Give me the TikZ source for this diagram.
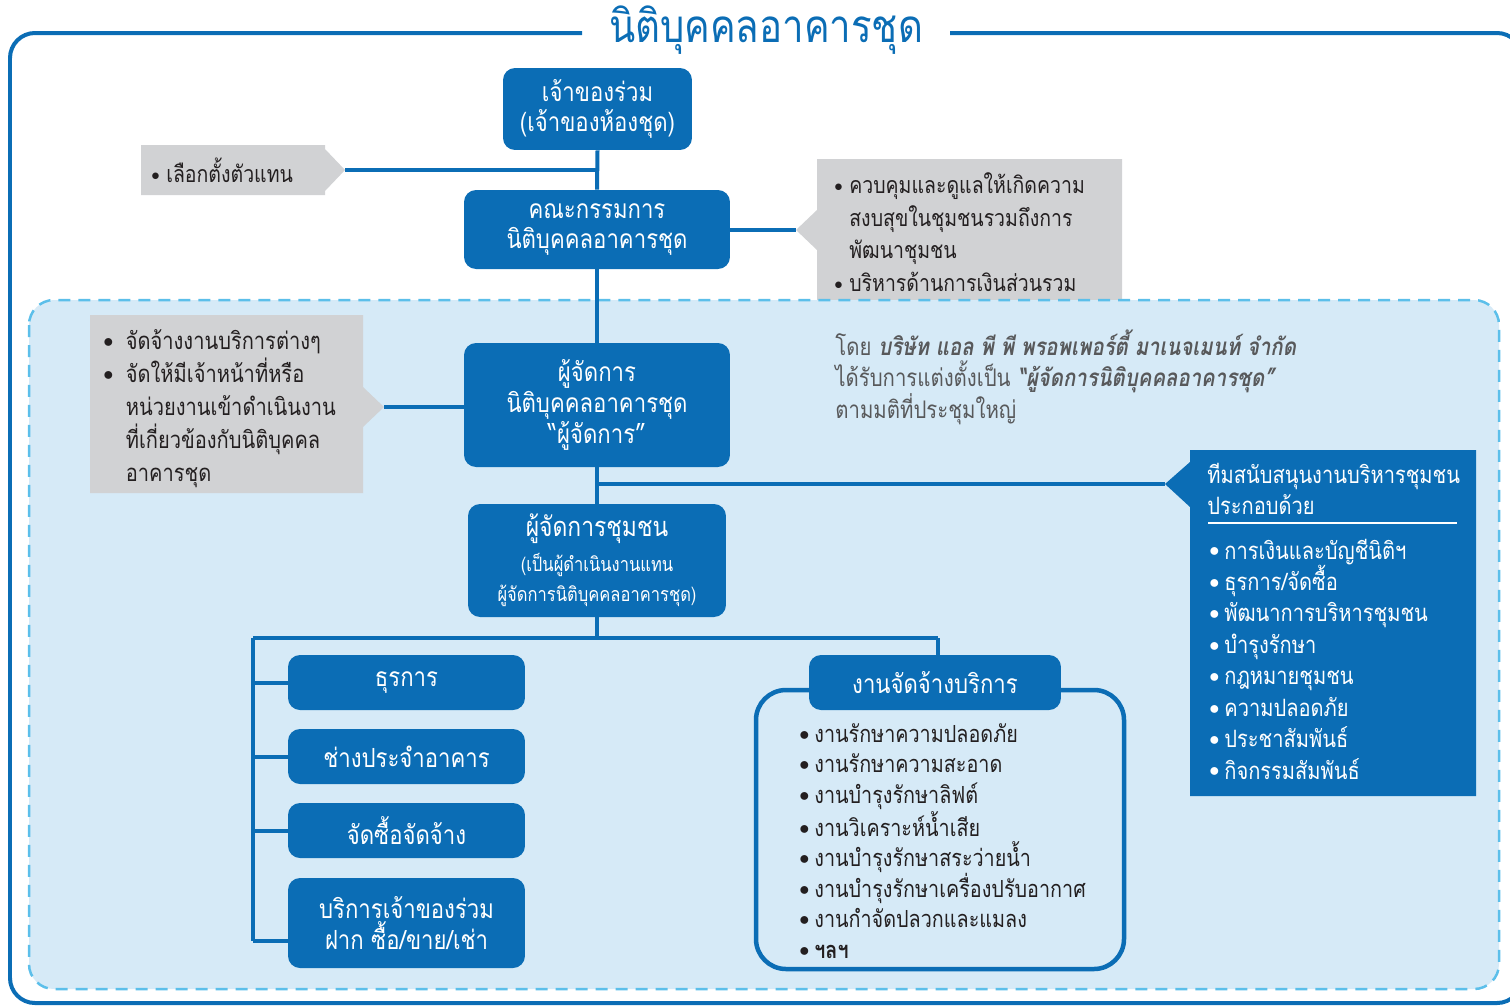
\documentclass[tikz,border=0pt]{standalone}
\usepackage{fontspec}
\newfontfamily\thaifont[Script=Thai,FakeStretch=0.84]{Loma}
\usetikzlibrary{positioning}

\definecolor{nitiblue}{HTML}{0B6DB5}
\definecolor{skyfill}{HTML}{D6EAF7}
\definecolor{skydash}{HTML}{5CBFEA}
\definecolor{calloutgray}{HTML}{D1D2D4}
\definecolor{inkgray}{HTML}{231F20}
\definecolor{notegray}{HTML}{58595B}

\newcommand{\bul}[1][0.3cm]{\makebox[#1][l]{\raisebox{0.09em}{\scalebox{0.8}{$\bullet$}}}}
\newcommand{\sz}[2]{\fontsize{#1}{#2}\selectfont}

\tikzset{
  orgbox/.style={fill=nitiblue, text=white, rounded corners=0.24cm, align=center,
    inner sep=0pt, font=\thaifont\sz{15}{17.5}},
  unitbox/.style={orgbox, minimum width=4.74cm, minimum height=1.1cm},
  link/.style={nitiblue, line width=0.08cm},
  frame/.style={nitiblue, line width=0.08cm, rounded corners=0.5cm},
  zone/.style={skydash, fill=skyfill, line width=0.05cm,
    dash pattern=on 0.24cm off 0.16cm, rounded corners=0.5cm},
  callout/.style={fill=calloutgray},
  calltext/.style={anchor=west, align=left, inner sep=0pt, text=inkgray,
    font=\thaifont\sz{13.2}{18.7}},
  listtext/.style={anchor=west, align=left, inner sep=0pt, font=\thaifont\sz{13.4}{17.4}}
}

\begin{document}
\begin{tikzpicture}[x=0.02cm, y=-0.02cm]
  \useasboundingbox (0,0) rectangle (1510,1005);

  % outer frame and title
  \draw[frame] (582,33) -- (10,33) -- (10,1003) -- (1522,1003) -- (1522,33) -- (950,33);
  \node[text=nitiblue, font=\thaifont\sz{26}{30}] (title) at (766,30) {นิติบุคคลอาคารชุด};

  % gray notes above the zone
  \fill[callout] (141,145) -- (325,145) -- (325,149) -- (345,170) -- (325,191)
    -- (325,195) -- (141,195) -- cycle;
  \coordinate (electtip) at (345,170);
  \node[calltext] (electnote) at (151,170) {\bul เลือกตั้งตัวแทน};

  \fill[callout] (817,159) -- (1122,159) -- (1122,300) -- (817,300) -- (817,250)
    -- (796,230) -- (817,210) -- cycle;
  \coordinate (boardtip) at (796,230);
  \node[calltext, font=\thaifont\sz{13.2}{18.6}] (boardnote) at (834,232)
    {\bul ควบคุมและดูแลให้เกิดความ\\\hspace*{0.3cm}สงบสุขในชุมชนรวมถึงการ\\
     \hspace*{0.3cm}พัฒนาชุมชน\\\bul บริหารด้านการเงินส่วนรวม};

  % management zone
  \draw[zone] (29,300) rectangle (1499,989);

  % main chain
  \node[orgbox, minimum width=3.78cm, minimum height=1.64cm] (owner) at (597.5,109)
    {เจ้าของร่วม\\(เจ้าของห้องชุด)};
  \node[orgbox, minimum width=5.32cm, minimum height=1.58cm] (board) at (597,229.5)
    {คณะกรรมการ\\นิติบุคคลอาคารชุด};
  \node[orgbox, minimum width=5.32cm, minimum height=2.48cm] (manager) at (597,405)
    {ผู้จัดการ\\นิติบุคคลอาคารชุด\\“ผู้จัดการ”};
  \node[orgbox, minimum width=5.16cm, minimum height=2.26cm] (community) at (597,560.5)
    {\sz{15.5}{20}ผู้จัดการชุมชน\\[2pt]\sz{11.2}{16}(เป็นผู้ดำเนินงานแทน\\\sz{11.2}{16}ผู้จัดการนิติบุคคลอาคารชุด)};

  \draw[link] (owner.south) -- (board.north);
  \draw[link] (board.south) -- (manager.north);
  \draw[link] (manager.south) -- (community.north);
  \draw[link] (electtip) -- (electtip -| owner.south);
  \draw[link] (board.east |- boardtip) -- (boardtip);

  % manager duties
  \fill[callout] (90,315) -- (363,315) -- (363,387) -- (384,407) -- (363,427)
    -- (363,493) -- (90,493) -- cycle;
  \coordinate (dutytip) at (384,407);
  \node[calltext, font=\thaifont\sz{13.6}{18.8}] (dutynote) at (103,409)
    {\bul[0.45cm]จัดจ้างงานบริการต่างๆ\\\bul[0.45cm]จัดให้มีเจ้าหน้าที่หรือ\\
     \hspace*{0.45cm}หน่วยงานเข้าดำเนินงาน\\\hspace*{0.45cm}ที่เกี่ยวข้องกับนิติบุคคล\\
     \hspace*{0.45cm}อาคารชุด};
  \draw[link] (dutytip) -- (manager.west |- dutytip);

  \node[listtext, text=notegray, font=\thaifont\sz{13.8}{17.9}] (appoint) at (835,377)
    {โดย \textbf{\itshape บริษัท แอล พี พี พรอพเพอร์ตี้ มาเนจเมนท์ จำกัด}\\
     ได้รับการแต่งตั้งเป็น \textbf{\itshape “ผู้จัดการนิติบุคคลอาคารชุด”}\\
     ตามมติที่ประชุมใหญ่};

  % support team
  \fill[nitiblue] (1190,450) -- (1476,450) -- (1476,796) -- (1190,796) -- (1190,507)
    -- (1165,484) -- (1190,462) -- cycle;
  \coordinate (teamtip) at (1165,484);
  \node[listtext, text=white, font=\thaifont\sz{13.6}{17.6}] (teamhead) at (1207,489)
    {ทีมสนับสนุนงานบริหารชุมชน\\ประกอบด้วย};
  \draw[white, line width=0.05cm] (1208,523) -- (1457,523);
  \node[listtext, text=white, font=\thaifont\sz{13.6}{17.9}] (teamlist) at (1209,659)
    {\bul การเงินและบัญชีนิติฯ\\\bul ธุรการ/จัดซื้อ\\\bul พัฒนาการบริหารชุมชน\\
     \bul บำรุงรักษา\\\bul กฎหมายชุมชน\\\bul ความปลอดภัย\\\bul ประชาสัมพันธ์\\
     \bul กิจกรรมสัมพันธ์};
  \draw[link] (manager.south |- teamtip) -- (teamtip);

  % staff units
  \node[unitbox] (clerk) at (406.5,682.5) {ธุรการ};
  \node[unitbox] (tech) at (406.5,756.5) {ช่างประจำอาคาร};
  \node[unitbox] (purchase) at (406.5,830.5) {จัดซื้อจัดจ้าง};
  \node[unitbox, minimum height=1.8cm] (ownerservice) at (406.5,923)
    {บริการเจ้าของร่วม\\ฝาก ซื้อ/ขาย/เช่า};

  \coordinate (busleft) at (253,638);
  \coordinate (busright) at (938,638);
  \coordinate (busend) at (253,941);
  \draw[link] (community.south) -- (community.south |- busleft);
  \draw[link] (busleft) -- (busright);
  \draw[link] (busleft) -- (busend);
  \draw[link] (busleft |- clerk.west) -- (clerk.west);
  \draw[link] (busleft |- tech.west) -- (tech.west);
  \draw[link] (busleft |- purchase.west) -- (purchase.west);
  \draw[link] (busend) -- (busend -| ownerservice.west);

  % outsourced services
  \draw[nitiblue, line width=0.09cm, rounded corners=0.6cm] (756,690) rectangle (1124,969);
  \node[orgbox, minimum width=5.04cm, minimum height=1.1cm] (outsource) at (935,682.5)
    {งานจัดจ้างบริการ};
  \draw[link] (busright) -- (busright |- outsource.north);
  \node[listtext, text=inkgray] (outlist) at (799,841)
    {\bul งานรักษาความปลอดภัย\\\bul งานรักษาความสะอาด\\\bul งานบำรุงรักษาลิฟต์\\
     \bul งานวิเคราะห์น้ำเสีย\\\bul งานบำรุงรักษาสระว่ายน้ำ\\
     \bul งานบำรุงรักษาเครื่องปรับอากาศ\\\bul งานกำจัดปลวกและแมลง\\\bul \textbf{ฯลฯ}};
\end{tikzpicture}
\end{document}
